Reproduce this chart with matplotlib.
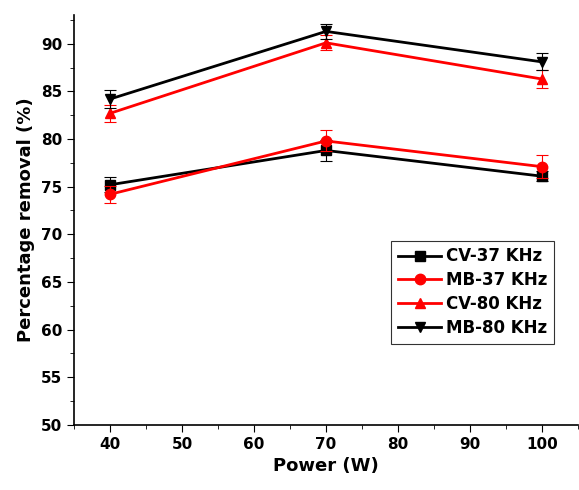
import matplotlib
matplotlib.use('Agg')
import matplotlib.pyplot as plt
from matplotlib.ticker import MultipleLocator

# data
power = [40, 70, 100]
cv37 = [75.2, 78.8, 76.1]
mb37 = [74.2, 79.8, 77.1]
cv80 = [82.7, 90.1, 86.3]
mb80 = [84.2, 91.3, 88.1]
cv37_err = [0.8, 1.1, 0.5]
mb37_err = [0.9, 1.1, 1.2]
cv80_err = [0.9, 0.8, 0.9]
mb80_err = [0.9, 0.8, 0.9]
labels = ['CV-37 KHz', 'MB-37 KHz', 'CV-80 KHz', 'MB-80 KHz']

plt.rcParams['font.family'] = ['DejaVu Sans']
plt.rcParams['font.weight'] = 'bold'

fig = plt.figure(figsize=(5.79, 4.9), dpi=100)
ax = fig.add_axes([0.128, 0.133, 0.87, 0.836])

series = [(cv37, cv37_err, 'black', 's'),
          (mb37, mb37_err, 'red', 'o'),
          (cv80, cv80_err, 'red', '^'),
          (mb80, mb80_err, 'black', 'v')]

handles = []
for (vals, err, col, mk), lab in zip(series, labels):
    ax.errorbar(power, vals, yerr=err, color=col, fmt='none',
                capsize=4, elinewidth=0.8, capthick=0.8)
    ln, = ax.plot(power, vals, color=col, marker=mk, markersize=7.5,
                  linewidth=2, label=lab)
    handles.append(ln)

ax.set_xlim(35, 105)
ax.set_ylim(50, 93)
ax.xaxis.set_major_locator(MultipleLocator(10))
ax.xaxis.set_minor_locator(MultipleLocator(5))
ax.yaxis.set_major_locator(MultipleLocator(5))
ax.yaxis.set_minor_locator(MultipleLocator(2.5))
ax.tick_params(which='major', direction='out', length=5, labelsize=11)
ax.tick_params(which='minor', direction='out', length=3)
for t in ax.get_xticklabels() + ax.get_yticklabels():
    t.set_fontweight('bold')

ax.spines['top'].set_visible(False)
ax.spines['right'].set_visible(False)
ax.spines['left'].set_linewidth(1.2)
ax.spines['bottom'].set_linewidth(1.2)

ax.set_xlabel('Power (W)', fontsize=13, fontweight='bold')
ax.set_ylabel('Percentage removal (%)', fontsize=13, fontweight='bold')

leg = ax.legend(handles=handles, loc='center right',
                bbox_to_anchor=(0.97, 0.324), fontsize=12,
                fancybox=False, edgecolor='black', handlelength=2.6,
                borderpad=0.4, labelspacing=0.35, handletextpad=0.3)
leg.get_frame().set_linewidth(0.8)
for t in leg.get_texts():
    t.set_fontweight('bold')

plt.savefig('out.png', dpi=100)
